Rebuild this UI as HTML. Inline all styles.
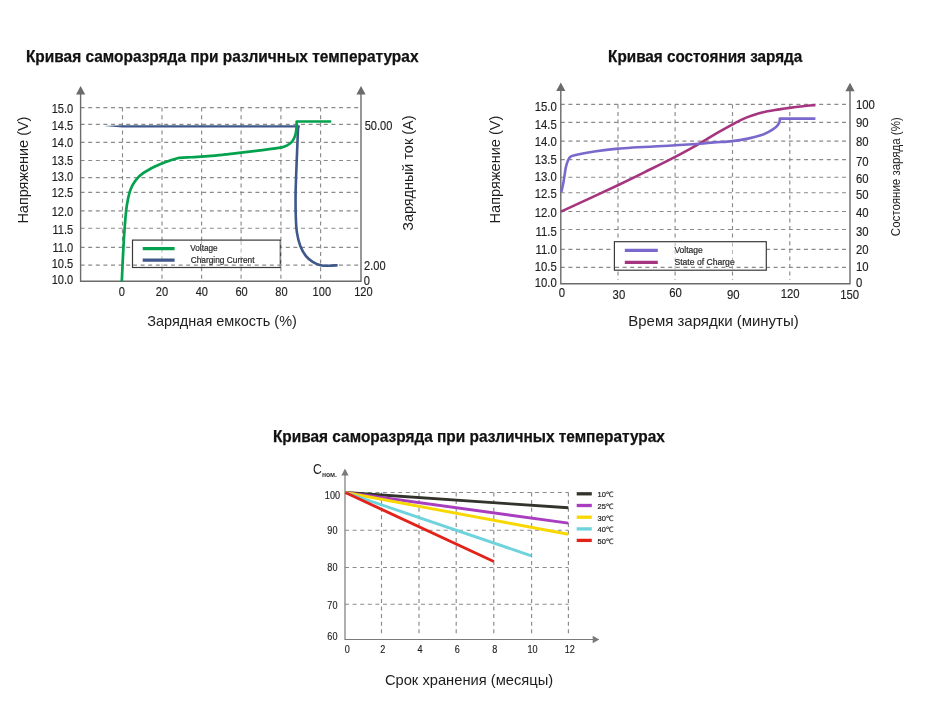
<!DOCTYPE html><html><head><meta charset="utf-8"><style>html,body{margin:0;padding:0;background:#fff;}svg{display:block;filter:blur(0.3px);}</style></head><body>
<svg width="943" height="709" viewBox="0 0 943 709" font-family='"Liberation Sans", sans-serif'>
<rect width="943" height="709" fill="#fff"/>
<line x1="80.6" y1="107.6" x2="361.0" y2="107.6" stroke="#8a8a8a" stroke-width="1.15" stroke-dasharray="4 3.6"/>
<line x1="80.6" y1="124.3" x2="361.0" y2="124.3" stroke="#8a8a8a" stroke-width="1.15" stroke-dasharray="4 3.6"/>
<line x1="80.6" y1="142.4" x2="361.0" y2="142.4" stroke="#8a8a8a" stroke-width="1.15" stroke-dasharray="4 3.6"/>
<line x1="80.6" y1="160.5" x2="361.0" y2="160.5" stroke="#8a8a8a" stroke-width="1.15" stroke-dasharray="4 3.6"/>
<line x1="80.6" y1="177.6" x2="361.0" y2="177.6" stroke="#8a8a8a" stroke-width="1.15" stroke-dasharray="4 3.6"/>
<line x1="80.6" y1="192.4" x2="361.0" y2="192.4" stroke="#8a8a8a" stroke-width="1.15" stroke-dasharray="4 3.6"/>
<line x1="80.6" y1="210.8" x2="361.0" y2="210.8" stroke="#8a8a8a" stroke-width="1.15" stroke-dasharray="4 3.6"/>
<line x1="80.6" y1="228.2" x2="361.0" y2="228.2" stroke="#8a8a8a" stroke-width="1.15" stroke-dasharray="4 3.6"/>
<line x1="80.6" y1="247.4" x2="361.0" y2="247.4" stroke="#8a8a8a" stroke-width="1.15" stroke-dasharray="4 3.6"/>
<line x1="80.6" y1="265.1" x2="361.0" y2="265.1" stroke="#8a8a8a" stroke-width="1.15" stroke-dasharray="4 3.6"/>
<line x1="122.5" y1="107.6" x2="122.5" y2="281.2" stroke="#8a8a8a" stroke-width="1.15" stroke-dasharray="4 3.6"/>
<line x1="162.0" y1="107.6" x2="162.0" y2="281.2" stroke="#8a8a8a" stroke-width="1.15" stroke-dasharray="4 3.6"/>
<line x1="201.6" y1="107.6" x2="201.6" y2="281.2" stroke="#8a8a8a" stroke-width="1.15" stroke-dasharray="4 3.6"/>
<line x1="241.1" y1="107.6" x2="241.1" y2="281.2" stroke="#8a8a8a" stroke-width="1.15" stroke-dasharray="4 3.6"/>
<line x1="280.9" y1="107.6" x2="280.9" y2="281.2" stroke="#8a8a8a" stroke-width="1.15" stroke-dasharray="4 3.6"/>
<line x1="320.6" y1="107.6" x2="320.6" y2="281.2" stroke="#8a8a8a" stroke-width="1.15" stroke-dasharray="4 3.6"/>
<path d="M80.6,93 L80.6,281.2 L361.0,281.2 L361.0,93" fill="none" stroke="#6b6b6b" stroke-width="1.4"/>
<path d="M76.0,94.5 L80.6,86 L85.19999999999999,94.5 Z" fill="#6b6b6b"/>
<path d="M356.4,94.5 L361.0,86 L365.6,94.5 Z" fill="#6b6b6b"/>
<text transform="translate(73.2,113.16) scale(0.93,1)" font-size="11.9" text-anchor="end" font-weight="normal" fill="#1e1e1e" stroke="#1e1e1e" stroke-width="0.15">15.0</text>
<text transform="translate(73.2,129.96) scale(0.93,1)" font-size="11.9" text-anchor="end" font-weight="normal" fill="#1e1e1e" stroke="#1e1e1e" stroke-width="0.15">14.5</text>
<text transform="translate(73.2,146.76) scale(0.93,1)" font-size="11.9" text-anchor="end" font-weight="normal" fill="#1e1e1e" stroke="#1e1e1e" stroke-width="0.15">14.0</text>
<text transform="translate(73.2,164.56) scale(0.93,1)" font-size="11.9" text-anchor="end" font-weight="normal" fill="#1e1e1e" stroke="#1e1e1e" stroke-width="0.15">13.5</text>
<text transform="translate(73.2,180.96) scale(0.93,1)" font-size="11.9" text-anchor="end" font-weight="normal" fill="#1e1e1e" stroke="#1e1e1e" stroke-width="0.15">13.0</text>
<text transform="translate(73.2,197.16) scale(0.93,1)" font-size="11.9" text-anchor="end" font-weight="normal" fill="#1e1e1e" stroke="#1e1e1e" stroke-width="0.15">12.5</text>
<text transform="translate(73.2,215.96) scale(0.93,1)" font-size="11.9" text-anchor="end" font-weight="normal" fill="#1e1e1e" stroke="#1e1e1e" stroke-width="0.15">12.0</text>
<text transform="translate(73.2,233.66) scale(0.93,1)" font-size="11.9" text-anchor="end" font-weight="normal" fill="#1e1e1e" stroke="#1e1e1e" stroke-width="0.15">11.5</text>
<text transform="translate(73.2,251.76) scale(0.93,1)" font-size="11.9" text-anchor="end" font-weight="normal" fill="#1e1e1e" stroke="#1e1e1e" stroke-width="0.15">11.0</text>
<text transform="translate(73.2,268.46) scale(0.93,1)" font-size="11.9" text-anchor="end" font-weight="normal" fill="#1e1e1e" stroke="#1e1e1e" stroke-width="0.15">10.5</text>
<text transform="translate(73.2,284.26) scale(0.93,1)" font-size="11.9" text-anchor="end" font-weight="normal" fill="#1e1e1e" stroke="#1e1e1e" stroke-width="0.15">10.0</text>
<text transform="translate(121.8,295.76) scale(0.93,1)" font-size="11.9" text-anchor="middle" font-weight="normal" fill="#1e1e1e" stroke="#1e1e1e" stroke-width="0.15">0</text>
<text transform="translate(162,295.76) scale(0.93,1)" font-size="11.9" text-anchor="middle" font-weight="normal" fill="#1e1e1e" stroke="#1e1e1e" stroke-width="0.15">20</text>
<text transform="translate(201.8,295.76) scale(0.93,1)" font-size="11.9" text-anchor="middle" font-weight="normal" fill="#1e1e1e" stroke="#1e1e1e" stroke-width="0.15">40</text>
<text transform="translate(241.6,295.76) scale(0.93,1)" font-size="11.9" text-anchor="middle" font-weight="normal" fill="#1e1e1e" stroke="#1e1e1e" stroke-width="0.15">60</text>
<text transform="translate(281.4,295.76) scale(0.93,1)" font-size="11.9" text-anchor="middle" font-weight="normal" fill="#1e1e1e" stroke="#1e1e1e" stroke-width="0.15">80</text>
<text transform="translate(321.8,295.76) scale(0.93,1)" font-size="11.9" text-anchor="middle" font-weight="normal" fill="#1e1e1e" stroke="#1e1e1e" stroke-width="0.15">100</text>
<text transform="translate(363.4,295.76) scale(0.93,1)" font-size="11.9" text-anchor="middle" font-weight="normal" fill="#1e1e1e" stroke="#1e1e1e" stroke-width="0.15">120</text>
<text transform="translate(364.7,130.26) scale(0.93,1)" font-size="11.9" text-anchor="start" font-weight="normal" fill="#1e1e1e" stroke="#1e1e1e" stroke-width="0.15">50.00</text>
<text transform="translate(364.0,270.16) scale(0.93,1)" font-size="11.9" text-anchor="start" font-weight="normal" fill="#1e1e1e" stroke="#1e1e1e" stroke-width="0.15">2.00</text>
<text transform="translate(363.8,285.36) scale(0.93,1)" font-size="11.9" text-anchor="start" font-weight="normal" fill="#1e1e1e" stroke="#1e1e1e" stroke-width="0.15">0</text>
<text transform="translate(27.6,170.1) rotate(-90)" font-size="13.8" text-anchor="middle" fill="#1e1e1e" textLength="107" lengthAdjust="spacingAndGlyphs">Напряжение (V)</text>
<text transform="translate(413.3,173.2) rotate(-90)" font-size="14" text-anchor="middle" fill="#1e1e1e" textLength="115.3" lengthAdjust="spacingAndGlyphs">Зарядный ток (А)</text>
<text x="147.3" y="326.1" font-size="14.3" fill="#1e1e1e" textLength="149.6" lengthAdjust="spacingAndGlyphs">Зарядная емкость (%)</text>
<text x="25.9" y="62.3" font-size="15.9" font-weight="bold" fill="#111" stroke="#111" stroke-width="0.25" textLength="392.6" lengthAdjust="spacingAndGlyphs">Кривая саморазряда при различных температурах</text>
<rect x="132.5" y="240.1" width="147.8" height="27.4" fill="#fff" stroke="#3a3a3a" stroke-width="1.2"/>
<line x1="162.0" y1="241" x2="162.0" y2="267" stroke="#b4b4b4" stroke-width="1" stroke-dasharray="4 3.6"/>
<line x1="201.6" y1="241" x2="201.6" y2="267" stroke="#b4b4b4" stroke-width="1" stroke-dasharray="4 3.6"/>
<line x1="241.1" y1="241" x2="241.1" y2="267" stroke="#b4b4b4" stroke-width="1" stroke-dasharray="4 3.6"/>
<line x1="280.9" y1="241" x2="280.9" y2="267" stroke="#b4b4b4" stroke-width="1" stroke-dasharray="4 3.6"/>
<line x1="133" y1="265.1" x2="280" y2="265.1" stroke="#8a8a8a" stroke-width="1.15" stroke-dasharray="4 3.6"/>
<line x1="142.7" y1="248.6" x2="174.6" y2="248.6" stroke="#04a24e" stroke-width="3.2"/>
<line x1="142.7" y1="260.1" x2="174.6" y2="260.1" stroke="#40578a" stroke-width="3.2"/>
<text x="190.3" y="251.1" font-size="8.2" text-anchor="start" font-weight="normal" fill="#2a2a2a" stroke="#2a2a2a" stroke-width="0.2">Voltage</text>
<text x="190.7" y="262.5" font-size="8.34" text-anchor="start" font-weight="normal" fill="#2a2a2a" stroke="#2a2a2a" stroke-width="0.2">Charging Current</text>
<path d="M103.8,126.0 L122.4,125.3 L299.7,125.3 L299.7,127.4 L122.4,127.6 Z" fill="#40578a"/>
<path d="M298.70,126.20 C298.60,126.58 298.35,124.72 298.10,128.50 C297.85,132.28 297.50,141.73 297.20,148.90 C296.90,156.07 296.57,163.98 296.30,171.50 C296.03,179.02 295.68,186.48 295.60,194.00 C295.52,201.52 295.58,210.20 295.80,216.60 C296.02,223.00 296.15,227.50 296.90,232.40 C297.65,237.30 298.78,242.05 300.30,246.00 C301.82,249.95 303.93,253.47 306.00,256.10 C308.07,258.73 310.27,260.28 312.70,261.80 C315.13,263.32 317.97,264.53 320.60,265.20 C323.23,265.87 325.67,265.80 328.50,265.80 C331.33,265.80 336.08,265.30 337.60,265.20" fill="none" stroke="#40578a" stroke-width="2.6" stroke-linejoin="round"/>
<path d="M121.80,281.30 C121.87,279.87 122.05,276.02 122.20,272.70 C122.35,269.38 122.52,265.17 122.70,261.40 C122.88,257.63 123.10,253.87 123.30,250.10 C123.50,246.33 123.67,242.55 123.90,238.80 C124.13,235.05 124.42,231.35 124.70,227.60 C124.98,223.85 125.23,220.07 125.60,216.30 C125.97,212.53 126.25,208.93 126.90,205.00 C127.55,201.07 128.53,196.05 129.50,192.70 C130.47,189.35 131.40,187.28 132.70,184.90 C134.00,182.52 135.62,180.32 137.30,178.40 C138.98,176.48 140.67,174.97 142.80,173.40 C144.93,171.83 147.90,170.23 150.10,169.00 C152.30,167.77 154.03,166.93 156.00,166.00 C157.97,165.07 159.32,164.40 161.90,163.40 C164.48,162.40 168.65,160.93 171.50,160.00 C174.35,159.07 177.75,158.17 179.00,157.80 L179.00,157.80 C180.35,157.73 183.37,157.58 187.10,157.40 C190.83,157.22 196.75,157.00 201.40,156.70 C206.05,156.40 210.48,156.03 215.00,155.60 C219.52,155.17 224.15,154.60 228.50,154.10 C232.85,153.60 235.83,153.23 241.10,152.60 C246.37,151.97 253.48,151.13 260.10,150.30 C266.72,149.47 276.30,148.42 280.80,147.60 C285.30,146.78 285.30,146.30 287.10,145.40 C288.90,144.50 290.40,143.48 291.60,142.20 C292.80,140.92 293.62,139.15 294.30,137.70 C294.98,136.25 295.33,135.20 295.70,133.50 C296.07,131.80 296.33,129.50 296.50,127.50 C296.67,125.50 296.67,122.50 296.70,121.50 L331.2,121.5" fill="none" stroke="#04a24e" stroke-width="2.7" stroke-linejoin="round"/>
<line x1="560.8" y1="104.4" x2="850.0" y2="104.4" stroke="#8a8a8a" stroke-width="1.15" stroke-dasharray="4 3.6"/>
<line x1="560.8" y1="122.3" x2="850.0" y2="122.3" stroke="#8a8a8a" stroke-width="1.15" stroke-dasharray="4 3.6"/>
<line x1="560.8" y1="141.1" x2="850.0" y2="141.1" stroke="#8a8a8a" stroke-width="1.15" stroke-dasharray="4 3.6"/>
<line x1="560.8" y1="159.6" x2="850.0" y2="159.6" stroke="#8a8a8a" stroke-width="1.15" stroke-dasharray="4 3.6"/>
<line x1="560.8" y1="177.2" x2="850.0" y2="177.2" stroke="#8a8a8a" stroke-width="1.15" stroke-dasharray="4 3.6"/>
<line x1="560.8" y1="192.7" x2="850.0" y2="192.7" stroke="#8a8a8a" stroke-width="1.15" stroke-dasharray="4 3.6"/>
<line x1="560.8" y1="211.5" x2="850.0" y2="211.5" stroke="#8a8a8a" stroke-width="1.15" stroke-dasharray="4 3.6"/>
<line x1="560.8" y1="229.5" x2="850.0" y2="229.5" stroke="#8a8a8a" stroke-width="1.15" stroke-dasharray="4 3.6"/>
<line x1="560.8" y1="249.4" x2="850.0" y2="249.4" stroke="#8a8a8a" stroke-width="1.15" stroke-dasharray="4 3.6"/>
<line x1="560.8" y1="267.4" x2="850.0" y2="267.4" stroke="#8a8a8a" stroke-width="1.15" stroke-dasharray="4 3.6"/>
<line x1="618.0" y1="104.4" x2="618.0" y2="280" stroke="#8a8a8a" stroke-width="1.15" stroke-dasharray="4 3.6"/>
<line x1="675.1" y1="104.4" x2="675.1" y2="280" stroke="#8a8a8a" stroke-width="1.15" stroke-dasharray="4 3.6"/>
<line x1="732.5" y1="104.4" x2="732.5" y2="280" stroke="#8a8a8a" stroke-width="1.15" stroke-dasharray="4 3.6"/>
<line x1="789.8" y1="104.4" x2="789.8" y2="280" stroke="#8a8a8a" stroke-width="1.15" stroke-dasharray="4 3.6"/>
<path d="M560.8,90 L560.8,283.7 L850.0,283.7 L850.0,90" fill="none" stroke="#6b6b6b" stroke-width="1.4"/>
<path d="M556.1999999999999,91 L560.8,82.5 L565.4,91 Z" fill="#6b6b6b"/>
<path d="M845.4,91.2 L850.0,82.7 L854.6,91.2 Z" fill="#6b6b6b"/>
<text transform="translate(556.8,110.97) scale(0.93,1)" font-size="12.2" text-anchor="end" font-weight="normal" fill="#1e1e1e" stroke="#1e1e1e" stroke-width="0.15">15.0</text>
<text transform="translate(556.8,128.67) scale(0.93,1)" font-size="12.2" text-anchor="end" font-weight="normal" fill="#1e1e1e" stroke="#1e1e1e" stroke-width="0.15">14.5</text>
<text transform="translate(556.8,145.97) scale(0.93,1)" font-size="12.2" text-anchor="end" font-weight="normal" fill="#1e1e1e" stroke="#1e1e1e" stroke-width="0.15">14.0</text>
<text transform="translate(556.8,163.87) scale(0.93,1)" font-size="12.2" text-anchor="end" font-weight="normal" fill="#1e1e1e" stroke="#1e1e1e" stroke-width="0.15">13.5</text>
<text transform="translate(556.8,180.87) scale(0.93,1)" font-size="12.2" text-anchor="end" font-weight="normal" fill="#1e1e1e" stroke="#1e1e1e" stroke-width="0.15">13.0</text>
<text transform="translate(556.8,197.77) scale(0.93,1)" font-size="12.2" text-anchor="end" font-weight="normal" fill="#1e1e1e" stroke="#1e1e1e" stroke-width="0.15">12.5</text>
<text transform="translate(556.8,216.97) scale(0.93,1)" font-size="12.2" text-anchor="end" font-weight="normal" fill="#1e1e1e" stroke="#1e1e1e" stroke-width="0.15">12.0</text>
<text transform="translate(556.8,236.37) scale(0.93,1)" font-size="12.2" text-anchor="end" font-weight="normal" fill="#1e1e1e" stroke="#1e1e1e" stroke-width="0.15">11.5</text>
<text transform="translate(556.8,254.27) scale(0.93,1)" font-size="12.2" text-anchor="end" font-weight="normal" fill="#1e1e1e" stroke="#1e1e1e" stroke-width="0.15">11.0</text>
<text transform="translate(556.8,271.27) scale(0.93,1)" font-size="12.2" text-anchor="end" font-weight="normal" fill="#1e1e1e" stroke="#1e1e1e" stroke-width="0.15">10.5</text>
<text transform="translate(556.8,287.47) scale(0.93,1)" font-size="12.2" text-anchor="end" font-weight="normal" fill="#1e1e1e" stroke="#1e1e1e" stroke-width="0.15">10.0</text>
<text transform="translate(561.8,297.07) scale(0.93,1)" font-size="12.2" text-anchor="middle" font-weight="normal" fill="#1e1e1e" stroke="#1e1e1e" stroke-width="0.15">0</text>
<text transform="translate(618.9,298.67) scale(0.93,1)" font-size="12.2" text-anchor="middle" font-weight="normal" fill="#1e1e1e" stroke="#1e1e1e" stroke-width="0.15">30</text>
<text transform="translate(675.5,297.37) scale(0.93,1)" font-size="12.2" text-anchor="middle" font-weight="normal" fill="#1e1e1e" stroke="#1e1e1e" stroke-width="0.15">60</text>
<text transform="translate(733.2,298.67) scale(0.93,1)" font-size="12.2" text-anchor="middle" font-weight="normal" fill="#1e1e1e" stroke="#1e1e1e" stroke-width="0.15">90</text>
<text transform="translate(790.2,298.07) scale(0.93,1)" font-size="12.2" text-anchor="middle" font-weight="normal" fill="#1e1e1e" stroke="#1e1e1e" stroke-width="0.15">120</text>
<text transform="translate(849.6,299.07) scale(0.93,1)" font-size="12.2" text-anchor="middle" font-weight="normal" fill="#1e1e1e" stroke="#1e1e1e" stroke-width="0.15">150</text>
<text transform="translate(855.9,109.07) scale(0.93,1)" font-size="12.2" text-anchor="start" font-weight="normal" fill="#1e1e1e" stroke="#1e1e1e" stroke-width="0.15">100</text>
<text transform="translate(855.9,127.47) scale(0.93,1)" font-size="12.2" text-anchor="start" font-weight="normal" fill="#1e1e1e" stroke="#1e1e1e" stroke-width="0.15">90</text>
<text transform="translate(855.9,145.87) scale(0.93,1)" font-size="12.2" text-anchor="start" font-weight="normal" fill="#1e1e1e" stroke="#1e1e1e" stroke-width="0.15">80</text>
<text transform="translate(855.9,165.87) scale(0.93,1)" font-size="12.2" text-anchor="start" font-weight="normal" fill="#1e1e1e" stroke="#1e1e1e" stroke-width="0.15">70</text>
<text transform="translate(855.9,182.87) scale(0.93,1)" font-size="12.2" text-anchor="start" font-weight="normal" fill="#1e1e1e" stroke="#1e1e1e" stroke-width="0.15">60</text>
<text transform="translate(855.9,199.07) scale(0.93,1)" font-size="12.2" text-anchor="start" font-weight="normal" fill="#1e1e1e" stroke="#1e1e1e" stroke-width="0.15">50</text>
<text transform="translate(855.9,217.47) scale(0.93,1)" font-size="12.2" text-anchor="start" font-weight="normal" fill="#1e1e1e" stroke="#1e1e1e" stroke-width="0.15">40</text>
<text transform="translate(855.9,235.67) scale(0.93,1)" font-size="12.2" text-anchor="start" font-weight="normal" fill="#1e1e1e" stroke="#1e1e1e" stroke-width="0.15">30</text>
<text transform="translate(855.9,253.77) scale(0.93,1)" font-size="12.2" text-anchor="start" font-weight="normal" fill="#1e1e1e" stroke="#1e1e1e" stroke-width="0.15">20</text>
<text transform="translate(855.9,271.37) scale(0.93,1)" font-size="12.2" text-anchor="start" font-weight="normal" fill="#1e1e1e" stroke="#1e1e1e" stroke-width="0.15">10</text>
<text transform="translate(855.9,287.47) scale(0.93,1)" font-size="12.2" text-anchor="start" font-weight="normal" fill="#1e1e1e" stroke="#1e1e1e" stroke-width="0.15">0</text>
<text transform="translate(499.7,169.5) rotate(-90)" font-size="13.8" text-anchor="middle" fill="#1e1e1e" textLength="107.8" lengthAdjust="spacingAndGlyphs">Напряжение (V)</text>
<text transform="translate(899.7,176.7) rotate(-90)" font-size="12" text-anchor="middle" fill="#1e1e1e" textLength="118.9" lengthAdjust="spacingAndGlyphs">Состояние заряда (%)</text>
<text x="628.3" y="326.1" font-size="14.3" fill="#1e1e1e" textLength="170.4" lengthAdjust="spacingAndGlyphs">Время зарядки (минуты)</text>
<text x="608.1" y="62.3" font-size="15.9" font-weight="bold" fill="#111" stroke="#111" stroke-width="0.25" textLength="194.2" lengthAdjust="spacingAndGlyphs">Кривая состояния заряда</text>
<rect x="614.4" y="241.7" width="151.9" height="28.5" fill="#fff" stroke="#3a3a3a" stroke-width="1.2"/>
<line x1="675.1" y1="242.5" x2="675.1" y2="269.5" stroke="#b4b4b4" stroke-width="1" stroke-dasharray="4 3.6"/>
<line x1="732.5" y1="242.5" x2="732.5" y2="269.5" stroke="#b4b4b4" stroke-width="1" stroke-dasharray="4 3.6"/>
<line x1="615" y1="267.4" x2="766" y2="267.4" stroke="#8a8a8a" stroke-width="1.15" stroke-dasharray="4 3.6"/>
<line x1="624.8" y1="250.4" x2="657.8" y2="250.4" stroke="#7b68cc" stroke-width="3.3"/>
<line x1="624.8" y1="262.4" x2="657.8" y2="262.4" stroke="#a6357f" stroke-width="3.3"/>
<text x="674.4" y="253.4" font-size="8.5" text-anchor="start" font-weight="normal" fill="#2a2a2a" stroke="#2a2a2a" stroke-width="0.2">Voltage</text>
<text x="674.4" y="265.2" font-size="8.62" text-anchor="start" font-weight="normal" fill="#2a2a2a" stroke="#2a2a2a" stroke-width="0.2">State of Charge</text>
<path d="M560.90,211.60 C570.40,207.20 603.05,192.22 617.90,185.20 C632.75,178.18 639.65,174.65 650.00,169.50 C660.35,164.35 671.68,158.67 680.00,154.30 C688.32,149.93 694.25,146.55 699.90,143.30 C705.55,140.05 708.52,137.92 713.90,134.80 C719.28,131.68 727.38,127.22 732.20,124.60 C737.02,121.98 739.48,120.62 742.80,119.10 C746.12,117.58 748.90,116.60 752.10,115.50 C755.30,114.40 758.18,113.42 762.00,112.50 C765.82,111.58 770.42,110.77 775.00,110.00 C779.58,109.23 784.87,108.52 789.50,107.90 C794.13,107.28 798.48,106.77 802.80,106.30 C807.12,105.83 813.30,105.30 815.40,105.10" fill="none" stroke="#a6357f" stroke-width="2.6" stroke-linecap="butt"/>
<path d="M561.30,192.30 C561.67,190.58 562.73,186.20 563.50,182.00 C564.27,177.80 565.15,170.68 565.90,167.10 C566.65,163.52 567.25,162.23 568.00,160.50 C568.75,158.77 569.27,157.58 570.40,156.70 C571.53,155.82 571.58,155.93 574.80,155.20 C578.02,154.47 582.52,153.40 589.70,152.30 C596.88,151.20 603.67,149.77 617.90,148.60 C632.13,147.43 661.43,146.12 675.10,145.30 C688.77,144.48 693.43,144.18 699.90,143.70 C706.37,143.22 708.52,142.83 713.90,142.40 C719.28,141.97 726.53,141.73 732.20,141.10 C737.87,140.47 743.27,139.52 747.90,138.60 C752.53,137.68 756.53,136.73 760.00,135.60 C763.47,134.47 766.02,133.25 768.70,131.80 C771.38,130.35 774.37,128.33 776.10,126.90 C777.83,125.47 778.48,124.35 779.10,123.20 C779.72,122.05 779.68,120.53 779.80,120.00 L779.8,118.6 L815.4,118.6" fill="none" stroke="#7b68cc" stroke-width="2.6" stroke-linejoin="round"/>
<line x1="345.0" y1="492.5" x2="568.4" y2="492.5" stroke="#8a8a8a" stroke-width="1.15" stroke-dasharray="4 3.6"/>
<line x1="345.0" y1="530.2" x2="568.4" y2="530.2" stroke="#8a8a8a" stroke-width="1.15" stroke-dasharray="4 3.6"/>
<line x1="345.0" y1="567.5" x2="568.4" y2="567.5" stroke="#8a8a8a" stroke-width="1.15" stroke-dasharray="4 3.6"/>
<line x1="345.0" y1="604.2" x2="568.4" y2="604.2" stroke="#8a8a8a" stroke-width="1.15" stroke-dasharray="4 3.6"/>
<line x1="381.5" y1="492.5" x2="381.5" y2="636" stroke="#8a8a8a" stroke-width="1.15" stroke-dasharray="4 3.6"/>
<line x1="419.0" y1="492.5" x2="419.0" y2="636" stroke="#8a8a8a" stroke-width="1.15" stroke-dasharray="4 3.6"/>
<line x1="456.2" y1="492.5" x2="456.2" y2="636" stroke="#8a8a8a" stroke-width="1.15" stroke-dasharray="4 3.6"/>
<line x1="493.8" y1="492.5" x2="493.8" y2="636" stroke="#8a8a8a" stroke-width="1.15" stroke-dasharray="4 3.6"/>
<line x1="531.6" y1="492.5" x2="531.6" y2="636" stroke="#8a8a8a" stroke-width="1.15" stroke-dasharray="4 3.6"/>
<line x1="568.4" y1="492.5" x2="568.4" y2="636" stroke="#8a8a8a" stroke-width="1.15" stroke-dasharray="4 3.6"/>
<path d="M345.0,475 L345.0,639.5 L593,639.5" fill="none" stroke="#7a7a7a" stroke-width="1.2"/>
<path d="M341.4,475.6 L345.0,468.5 L348.6,475.6 Z" fill="#7a7a7a"/>
<path d="M592.7,635.8 L599.4,639.5 L592.7,643.2 Z" fill="#7a7a7a"/>
<text transform="translate(332.4,498.62) scale(0.9,1)" font-size="10.1" text-anchor="middle" font-weight="normal" fill="#1e1e1e" stroke="#1e1e1e" stroke-width="0.15">100</text>
<text transform="translate(332.4,534.12) scale(0.9,1)" font-size="10.1" text-anchor="middle" font-weight="normal" fill="#1e1e1e" stroke="#1e1e1e" stroke-width="0.15">90</text>
<text transform="translate(332.4,571.12) scale(0.9,1)" font-size="10.1" text-anchor="middle" font-weight="normal" fill="#1e1e1e" stroke="#1e1e1e" stroke-width="0.15">80</text>
<text transform="translate(332.4,608.62) scale(0.9,1)" font-size="10.1" text-anchor="middle" font-weight="normal" fill="#1e1e1e" stroke="#1e1e1e" stroke-width="0.15">70</text>
<text transform="translate(332.4,639.62) scale(0.9,1)" font-size="10.1" text-anchor="middle" font-weight="normal" fill="#1e1e1e" stroke="#1e1e1e" stroke-width="0.15">60</text>
<text transform="translate(347.3,652.62) scale(0.9,1)" font-size="10.1" text-anchor="middle" font-weight="normal" fill="#1e1e1e" stroke="#1e1e1e" stroke-width="0.15">0</text>
<text transform="translate(382.7,652.62) scale(0.9,1)" font-size="10.1" text-anchor="middle" font-weight="normal" fill="#1e1e1e" stroke="#1e1e1e" stroke-width="0.15">2</text>
<text transform="translate(420,652.62) scale(0.9,1)" font-size="10.1" text-anchor="middle" font-weight="normal" fill="#1e1e1e" stroke="#1e1e1e" stroke-width="0.15">4</text>
<text transform="translate(457.2,652.62) scale(0.9,1)" font-size="10.1" text-anchor="middle" font-weight="normal" fill="#1e1e1e" stroke="#1e1e1e" stroke-width="0.15">6</text>
<text transform="translate(494.8,652.62) scale(0.9,1)" font-size="10.1" text-anchor="middle" font-weight="normal" fill="#1e1e1e" stroke="#1e1e1e" stroke-width="0.15">8</text>
<text transform="translate(532.6,652.62) scale(0.9,1)" font-size="10.1" text-anchor="middle" font-weight="normal" fill="#1e1e1e" stroke="#1e1e1e" stroke-width="0.15">10</text>
<text transform="translate(569.8,652.62) scale(0.9,1)" font-size="10.1" text-anchor="middle" font-weight="normal" fill="#1e1e1e" stroke="#1e1e1e" stroke-width="0.15">12</text>
<text transform="translate(312.9,473.9) scale(0.84,1)" font-size="14.6" text-anchor="start" font-weight="normal" fill="#1a1a1a" >C</text>
<text x="321.9" y="476.8" font-size="6.8" text-anchor="start" font-weight="bold" fill="#333" >ном.</text>
<text x="272.9" y="441.8" font-size="15.9" font-weight="bold" fill="#111" stroke="#111" stroke-width="0.25" textLength="392.0" lengthAdjust="spacingAndGlyphs">Кривая саморазряда при различных температурах</text>
<text x="384.9" y="684.8" font-size="14.3" fill="#1e1e1e" textLength="168.3" lengthAdjust="spacingAndGlyphs">Срок хранения (месяцы)</text>
<line x1="345.3" y1="492.5" x2="568.3" y2="507.8" stroke="#33332b" stroke-width="2.9"/>
<line x1="345.3" y1="492.5" x2="568.3" y2="523.1" stroke="#a83dbf" stroke-width="2.9"/>
<line x1="345.3" y1="492.5" x2="568.3" y2="534.3" stroke="#f9d700" stroke-width="2.9"/>
<line x1="345.3" y1="492.5" x2="531.4" y2="555.8" stroke="#6ed3dc" stroke-width="2.9"/>
<line x1="345.3" y1="492.5" x2="493.8" y2="561.5" stroke="#e2231a" stroke-width="2.9"/>
<line x1="576.7" y1="493.8" x2="591.8" y2="493.8" stroke="#33332b" stroke-width="3.3"/>
<text x="597.6" y="497.2" font-size="7.5" text-anchor="start" font-weight="normal" fill="#222" stroke="#222" stroke-width="0.2">10℃</text>
<line x1="576.7" y1="505.5" x2="591.8" y2="505.5" stroke="#a83dbf" stroke-width="3.3"/>
<text x="597.6" y="508.9" font-size="7.5" text-anchor="start" font-weight="normal" fill="#222" stroke="#222" stroke-width="0.2">25℃</text>
<line x1="576.7" y1="517.2" x2="591.8" y2="517.2" stroke="#f9d700" stroke-width="3.3"/>
<text x="597.6" y="520.6" font-size="7.5" text-anchor="start" font-weight="normal" fill="#222" stroke="#222" stroke-width="0.2">30℃</text>
<line x1="576.7" y1="528.9" x2="591.8" y2="528.9" stroke="#6ed3dc" stroke-width="3.3"/>
<text x="597.6" y="532.3" font-size="7.5" text-anchor="start" font-weight="normal" fill="#222" stroke="#222" stroke-width="0.2">40℃</text>
<line x1="576.7" y1="540.4" x2="591.8" y2="540.4" stroke="#e2231a" stroke-width="3.3"/>
<text x="597.6" y="543.8" font-size="7.5" text-anchor="start" font-weight="normal" fill="#222" stroke="#222" stroke-width="0.2">50℃</text>
</svg></body></html>
